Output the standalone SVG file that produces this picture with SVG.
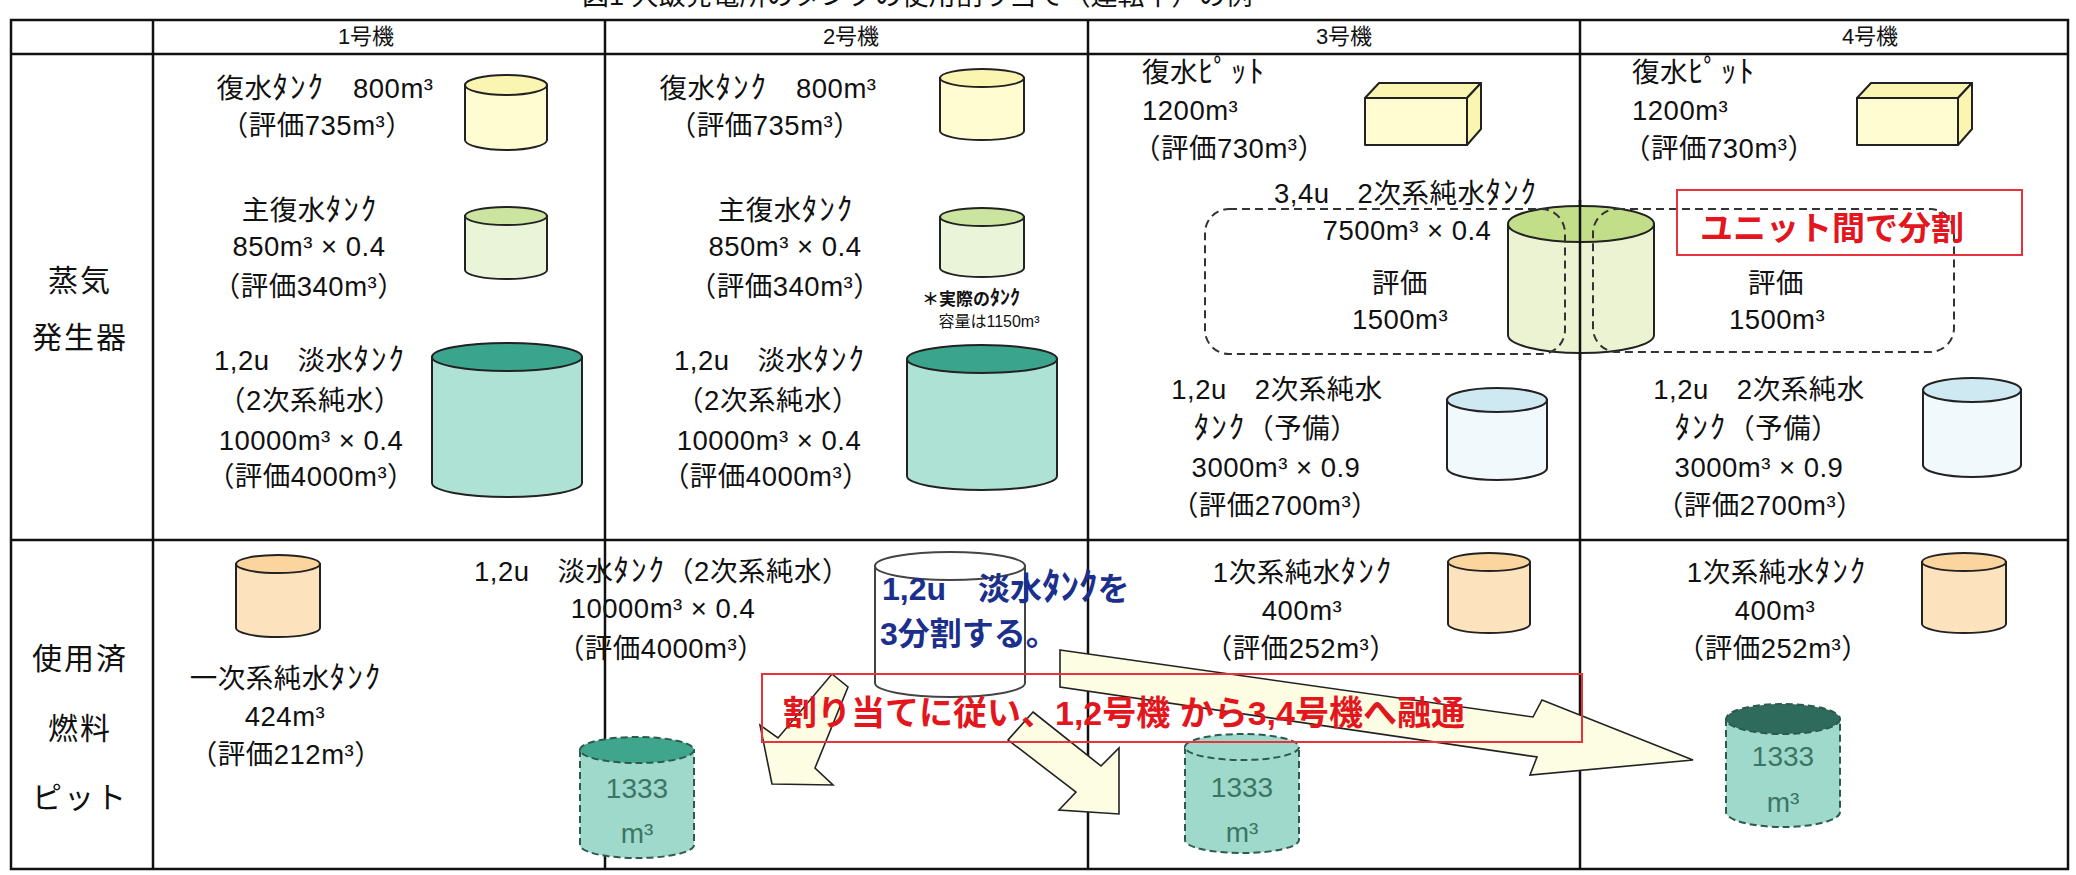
<svg xmlns="http://www.w3.org/2000/svg" width="2076" height="875" viewBox="0 0 2076 875">
<style>
  text { font-family: "Liberation Sans", "Noto Sans CJK JP", sans-serif; fill: #111; }
  .t { font-size: 27.5px; text-anchor: middle; letter-spacing: 0.5px; }
  .l { font-size: 27.5px; text-anchor: start; letter-spacing: 0.5px; }
  .k { font-size: 31px; letter-spacing: 2px; }
  .hd { font-size: 22px; text-anchor: middle; }
  .rl { font-size: 30px; text-anchor: middle; letter-spacing: 2px; }
  .note { font-size: 17px; font-weight: bold; text-anchor: middle; }
  .note .k { font-size: 20px; letter-spacing: 0; }
  .note2 { font-size: 16px; text-anchor: middle; }
  .blue { font-size: 32px; font-weight: bold; fill: #1b2f8c; text-anchor: start; }
  .blue .k { font-size: 37px; letter-spacing: 0; }
  .red { font-size: 34px; font-weight: bold; fill: #e3161e; text-anchor: start; }
  .tk { font-size: 28px; fill: #3d7565; text-anchor: middle; }
  .grid { stroke: #111; stroke-width: 2.5; fill: none; }
  .cyl { stroke: #222; stroke-width: 2; }
  .dcyl { stroke: #2c5a4e; stroke-width: 2; stroke-dasharray: 7 4; }
  .yb { fill: #fffcd2; } .yt { fill: #fbf5b2; }
  .gb { fill: #e9f4d9; } .gt { fill: #cbe5a0; }
  .cb { fill: #aee2d5; } .ct { fill: #3aa58c; }
  .bb { fill: #f2f9fc; } .bt { fill: #cfe9f3; }
  .ob { fill: #fde3bd; } .ot { fill: #fcd49e; }
  .db { fill: #9ed9cb; } .dt1 { fill: #3fa68d; } .dt2 { fill: #2f6b5c; }
  .pb { fill: #ebf3d2; } .pt { fill: #c3de89; }
  .box { stroke: #222; stroke-width: 2; stroke-linejoin: round; }
  .dash { fill: none; stroke: #333; stroke-width: 2; stroke-dasharray: 8 5; }
  .arrow { fill: #fdfde4; stroke: #222; stroke-width: 1.6; stroke-linejoin: miter; }
  .redbox { fill: none; stroke: #e8333c; stroke-width: 2; }
</style>

<!-- caption, cut off by the top edge -->
<text id="title" x="582" y="5" style="font-size:27px">図1 大飯発電所のタンクの使用割り当て（運転中）の例</text>

<!-- table frame -->
<g id="table">
  <rect class="grid" x="11" y="20" width="2057" height="849"/>
  <line class="grid" x1="11" y1="54" x2="2068" y2="54"/>
  <line class="grid" x1="11" y1="540" x2="2068" y2="540"/>
  <line class="grid" x1="153" y1="20" x2="153" y2="869"/>
  <line class="grid" x1="605" y1="20" x2="605" y2="869"/>
  <line class="grid" x1="1088" y1="20" x2="1088" y2="869"/>
  <line class="grid" x1="1580" y1="20" x2="1580" y2="869"/>
</g>

<g id="headers">
  <text class="hd" x="366" y="44">1号機</text>
  <text class="hd" x="851" y="44">2号機</text>
  <text class="hd" x="1344" y="44">3号機</text>
  <text class="hd" x="1870" y="44">4号機</text>
</g>

<g id="row-labels">
  <text class="rl" x="80" y="291">蒸気</text>
  <text class="rl" x="80" y="348">発生器</text>
  <text class="rl" x="80" y="669">使用済</text>
  <text class="rl" x="80" y="739">燃料</text>
  <text class="rl" x="80" y="808">ピット</text>
</g>

<!-- ===== steam generator row, unit 1 ===== -->
<g id="u1-cond-tank">
  <path class="cyl yb" d="M465 85 L465 140 A41 10 0 0 0 547 140 L547 85 Z"/>
  <ellipse class="cyl yt" cx="506" cy="85" rx="41" ry="10"/>
  <text class="t" x="325" y="98">復水<tspan class="k">ﾀﾝｸ</tspan>　800m³</text>
  <text class="t" x="317" y="135">（評価735m³）</text>
</g>
<g id="u1-main-cond-tank">
  <path class="cyl gb" d="M465 216 L465 270 A41 9 0 0 0 547 270 L547 216 Z"/>
  <ellipse class="cyl gt" cx="506" cy="216" rx="41" ry="9"/>
  <text class="t" x="310" y="220">主復水<tspan class="k">ﾀﾝｸ</tspan></text>
  <text class="t" x="309" y="256">850m³ × 0.4</text>
  <text class="t" x="309" y="296">（評価340m³）</text>
</g>
<g id="u1-fresh-tank">
  <path class="cyl cb" d="M432 357 L432 483 A75 14 0 0 0 582 483 L582 357 Z"/>
  <ellipse class="cyl ct" cx="507" cy="357" rx="75" ry="14"/>
  <text class="t" x="310" y="370">1,2u　淡水<tspan class="k">ﾀﾝｸ</tspan></text>
  <text class="t" x="310" y="410">（2次系純水）</text>
  <text class="t" x="311" y="450">10000m³ × 0.4</text>
  <text class="t" x="311" y="486">（評価4000m³）</text>
</g>

<!-- ===== steam generator row, unit 2 ===== -->
<g id="u2-cond-tank">
  <path class="cyl yb" d="M940 78 L940 131 A42 9 0 0 0 1024 131 L1024 78 Z"/>
  <ellipse class="cyl yt" cx="982" cy="78" rx="42" ry="9"/>
  <text class="t" x="768" y="98">復水<tspan class="k">ﾀﾝｸ</tspan>　800m³</text>
  <text class="t" x="765" y="135">（評価735m³）</text>
</g>
<g id="u2-main-cond-tank">
  <path class="cyl gb" d="M940 217 L940 268 A42 9 0 0 0 1024 268 L1024 217 Z"/>
  <ellipse class="cyl gt" cx="982" cy="217" rx="42" ry="9"/>
  <text class="t" x="786" y="220">主復水<tspan class="k">ﾀﾝｸ</tspan></text>
  <text class="t" x="785" y="256">850m³ × 0.4</text>
  <text class="t" x="785" y="296">（評価340m³）</text>
  <text class="note" x="971" y="305">＊実際の<tspan class="k">ﾀﾝｸ</tspan></text>
  <text class="note2" x="989" y="327">容量は1150m³</text>
</g>
<g id="u2-fresh-tank">
  <path class="cyl cb" d="M907 359 L907 476 A75 14 0 0 0 1057 476 L1057 359 Z"/>
  <ellipse class="cyl ct" cx="982" cy="359" rx="75" ry="14"/>
  <text class="t" x="770" y="370">1,2u　淡水<tspan class="k">ﾀﾝｸ</tspan></text>
  <text class="t" x="768" y="410">（2次系純水）</text>
  <text class="t" x="769" y="450">10000m³ × 0.4</text>
  <text class="t" x="766" y="486">（評価4000m³）</text>
</g>

<!-- ===== steam generator row, units 3 and 4 ===== -->
<g id="u3-cond-pit">
  <rect class="box yb" x="1365" y="98" width="102" height="47"/>
  <path class="box yt" d="M1365 98 L1379 83 L1481 83 L1467 98 Z"/>
  <path class="box yt" d="M1467 98 L1481 83 L1481 129 L1467 145 Z"/>
  <text class="l" x="1142" y="82">復水<tspan class="k">ﾋﾟｯﾄ</tspan></text>
  <text class="l" x="1142" y="120">1200m³</text>
  <text class="l" x="1133" y="158">（評価730m³）</text>
</g>
<g id="u4-cond-pit">
  <rect class="box yb" x="1857" y="98" width="101" height="47"/>
  <path class="box yt" d="M1857 98 L1871 83 L1972 83 L1958 98 Z"/>
  <path class="box yt" d="M1958 98 L1972 83 L1972 129 L1958 145 Z"/>
  <text class="l" x="1632" y="82">復水<tspan class="k">ﾋﾟｯﾄ</tspan></text>
  <text class="l" x="1632" y="120">1200m³</text>
  <text class="l" x="1623" y="158">（評価730m³）</text>
</g>

<g id="u34-pure-water-tank">
  <path class="cyl pb" d="M1508 224 L1508 335 A73 18 0 0 0 1654 335 L1654 224 Z"/>
  <ellipse class="cyl pt" cx="1581" cy="224" rx="73" ry="18"/>
  <line class="grid" x1="1580" y1="200" x2="1580" y2="360"/>
  <rect class="dash" x="1205" y="209" width="360" height="145" rx="24"/>
  <rect class="dash" x="1593" y="209" width="361" height="143" rx="24"/>
  <text class="t" x="1406" y="203">3,4u　2次系純水<tspan class="k">ﾀﾝｸ</tspan></text>
  <text class="t" x="1407" y="240">7500m³ × 0.4</text>
  <text class="t" x="1400" y="293">評価</text>
  <text class="t" x="1400" y="329">1500m³</text>
  <text class="t" x="1776" y="293">評価</text>
  <text class="t" x="1777" y="329">1500m³</text>
</g>
<g id="unit-split-note">
  <rect class="redbox" x="1677" y="190" width="345" height="65"/>
  <text class="red" x="1700" y="240" style="font-size:33px">ユニット間で分割</text>
</g>

<g id="u3-spare-tank">
  <path class="cyl bb" d="M1447 400 L1447 468 A50 12 0 0 0 1547 468 L1547 400 Z"/>
  <ellipse class="cyl bt" cx="1497" cy="400" rx="50" ry="12"/>
  <text class="t" x="1277" y="399">1,2u　2次系純水</text>
  <text class="t" x="1276" y="438"><tspan class="k">ﾀﾝｸ</tspan>（予備）</text>
  <text class="t" x="1276" y="477">3000m³ × 0.9</text>
  <text class="t" x="1275" y="515">（評価2700m³）</text>
</g>
<g id="u4-spare-tank">
  <path class="cyl bb" d="M1923 390 L1923 465 A49 12 0 0 0 2021 465 L2021 390 Z"/>
  <ellipse class="cyl bt" cx="1972" cy="390" rx="49" ry="12"/>
  <text class="t" x="1759" y="399">1,2u　2次系純水</text>
  <text class="t" x="1757" y="438"><tspan class="k">ﾀﾝｸ</tspan>（予備）</text>
  <text class="t" x="1759" y="477">3000m³ × 0.9</text>
  <text class="t" x="1760" y="515">（評価2700m³）</text>
</g>

<!-- ===== spent fuel pit row ===== -->
<g id="u1-primary-tank">
  <path class="cyl ob" d="M236 564 L236 628 A42 9 0 0 0 320 628 L320 564 Z"/>
  <ellipse class="cyl ot" cx="278" cy="564" rx="42" ry="9"/>
  <text class="t" x="286" y="688">一次系純水<tspan class="k">ﾀﾝｸ</tspan></text>
  <text class="t" x="285" y="726">424m³</text>
  <text class="t" x="286" y="764">（評価212m³）</text>
</g>
<g id="u3-primary-tank">
  <path class="cyl ob" d="M1448 562 L1448 624 A41 9 0 0 0 1530 624 L1530 562 Z"/>
  <ellipse class="cyl ot" cx="1489" cy="562" rx="41" ry="9"/>
  <text class="t" x="1303" y="582">1次系純水<tspan class="k">ﾀﾝｸ</tspan></text>
  <text class="t" x="1302" y="620">400m³</text>
  <text class="t" x="1301" y="658">（評価252m³）</text>
</g>
<g id="u4-primary-tank">
  <path class="cyl ob" d="M1922 562 L1922 624 A42 9 0 0 0 2006 624 L2006 562 Z"/>
  <ellipse class="cyl ot" cx="1964" cy="562" rx="42" ry="9"/>
  <text class="t" x="1777" y="582">1次系純水<tspan class="k">ﾀﾝｸ</tspan></text>
  <text class="t" x="1775" y="620">400m³</text>
  <text class="t" x="1773" y="658">（評価252m³）</text>
</g>

<g id="shared-fresh-tank">
  <path d="M875 566 L875 683 A75 14 0 0 0 1025 683 L1025 566 Z" fill="#fff" stroke="#444" stroke-width="2"/>
  <ellipse cx="950" cy="566" rx="75" ry="14" fill="#fff" stroke="#444" stroke-width="2"/>
  <text class="t" x="662" y="581">1,2u　淡水<tspan class="k">ﾀﾝｸ</tspan>（2次系純水）</text>
  <text class="t" x="663" y="618">10000m³ × 0.4</text>
  <text class="t" x="661" y="658">（評価4000m³）</text>
</g>

<g id="split-tank-a">
  <path class="dcyl db" d="M580 750 L580 845 A57 13 0 0 0 694 845 L694 750 Z"/>
  <ellipse class="dcyl dt1" cx="637" cy="750" rx="57" ry="13"/>
  <text class="tk" x="637" y="798">1333</text>
  <text class="tk" x="637" y="843">m³</text>
</g>
<g id="split-tank-b">
  <path class="dcyl db" d="M1185 747 L1185 840 A57 13 0 0 0 1299 840 L1299 747 Z"/>
  <ellipse class="dcyl db" cx="1242" cy="747" rx="57" ry="13"/>
  <text class="tk" x="1242" y="797">1333</text>
  <text class="tk" x="1242" y="842">m³</text>
</g>
<g id="split-tank-c">
  <path class="dcyl db" d="M1726 719 L1726 812 A57 15 0 0 0 1840 812 L1840 719 Z"/>
  <ellipse class="dcyl dt2" cx="1783" cy="719" rx="57" ry="15"/>
  <text class="tk" x="1783" y="766">1333</text>
  <text class="tk" x="1783" y="812">m³</text>
</g>

<!-- transfer arrows -->
<g id="connectors">
  <polygon class="arrow" points="832,674 848,687 815,768 833,785 772,784 760,725 778,738"/>
  <polygon class="arrow" points="1033,712 1101,766 1119,748 1119,814 1059,810 1076,792 1008,740"/>
  <polygon class="arrow" points="1060,650 1533,717 1542,700 1693,760 1530,775 1537,757 1060,687"/>
</g>

<g id="transfer-note">
  <rect class="redbox" x="762" y="674" width="820" height="68"/>
  <text class="red" x="783" y="725">割り当てに従い、1,2号機 から3,4号機へ融通</text>
</g>
<g id="split-note">
  <text class="blue" x="882" y="600">1,2u　淡水<tspan class="k">ﾀﾝｸ</tspan>を</text>
  <text class="blue" x="880" y="645">3分割する。</text>
</g>
</svg>
